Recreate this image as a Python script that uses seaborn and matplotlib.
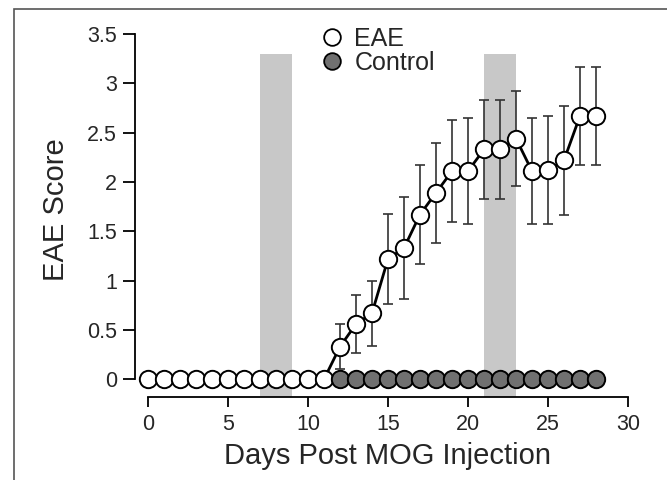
import numpy as np
import pandas as pd
import matplotlib
matplotlib.use("Agg")
import matplotlib.pyplot as plt
from matplotlib.lines import Line2D
import seaborn as sns

# mean clinical score (EAE group) per day, with SEM
eae_days = list(range(0, 29))
eae_score = [0, 0, 0, 0, 0, 0, 0, 0, 0, 0, 0, 0,
             0.33, 0.56, 0.67, 1.22, 1.33, 1.67, 1.89, 2.11, 2.11,
             2.33, 2.33, 2.44, 2.11, 2.12, 2.22, 2.67, 2.67]
eae_sem = [0, 0, 0, 0, 0, 0, 0, 0, 0, 0, 0, 0,
           0.23, 0.29, 0.33, 0.46, 0.52, 0.5, 0.51, 0.52, 0.54,
           0.5, 0.5, 0.48, 0.54, 0.55, 0.55, 0.5, 0.5]

control_days = list(range(12, 29))
control_score = [0] * len(control_days)

# shaded treatment windows (days)
windows = [(7, 9), (21, 23)]

xticks = [0, 5, 10, 15, 20, 25, 30]
yticks = [0, 0.5, 1, 1.5, 2, 2.5, 3, 3.5]
ytick_labels = ["0", "0.5", "1", "1.5", "2", "2.5", "3", "3.5"]

eae = pd.DataFrame({"day": eae_days, "score": eae_score, "sem": eae_sem})
ctrl = pd.DataFrame({"day": control_days, "score": control_score})

sns.set_style("ticks")
plt.rcParams["font.family"] = ["Liberation Sans", "DejaVu Sans"]

fig = plt.figure(figsize=(6.67, 4.8), dpi=100)
# axes: left spine at x=135px, x 0..30 -> 148..628px, y -0.18..3.5 -> 397..34px
ax = fig.add_axes([135 / 667, 83 / 480, 493 / 667, 363 / 480])

# grey frame around the panel
fig.patches.append(plt.Rectangle((14 / 667, -0.05), 1.0, (480 - 9) / 480 + 0.05,
                                 transform=fig.transFigure, fill=False,
                                 edgecolor="#555555", linewidth=1.2))

for lo, hi in windows:
    ax.fill_between([lo, hi], -0.18, 3.3, color="#c8c8c8", linewidth=0,
                    zorder=0)

ax.errorbar(eae["day"], eae["score"], yerr=eae["sem"], fmt="none",
            ecolor="#333333", elinewidth=1.2, capsize=3.3, capthick=1.2,
            zorder=2, clip_on=False)

sns.lineplot(data=eae, x="day", y="score", color="black", linewidth=2,
             marker="o", markersize=12.5, markerfacecolor="white",
             markeredgecolor="black", markeredgewidth=1.4, ax=ax,
             zorder=3, clip_on=False)
sns.lineplot(data=ctrl, x="day", y="score", color="black", linewidth=0,
             marker="o", markersize=12.5, markerfacecolor="#707070",
             markeredgecolor="black", markeredgewidth=1.4, ax=ax,
             zorder=4, clip_on=False)

ax.set_xlim(-0.8125, 30)
ax.set_ylim(-0.18, 3.5)
ax.set_xticks(xticks)
ax.set_xticklabels([str(t) for t in xticks], fontsize=15.5)
ax.set_yticks(yticks)
ax.set_yticklabels(ytick_labels, fontsize=15.5)
ax.tick_params(axis="y", length=9, width=1.3, color="black", pad=4)
ax.tick_params(axis="x", length=7, width=1.3, color="black", pad=5)
for s in ["top", "right"]:
    ax.spines[s].set_visible(False)
for s in ["left", "bottom"]:
    ax.spines[s].set_linewidth(1.3)
    ax.spines[s].set_color("black")
ax.spines["bottom"].set_bounds(0, 30)
ax.spines["left"].set_bounds(0, 3.5)

ax.set_xlabel("Days Post MOG Injection", fontsize=21)
ax.set_ylabel("EAE Score", fontsize=21)
ax.xaxis.set_label_coords(388 / 667, 1 - 442 / 480, transform=fig.transFigure)
ax.yaxis.set_label_coords(70 / 667, 1 - 210 / 480, transform=fig.transFigure)

handles = [
    Line2D([], [], linestyle="none", marker="o", markersize=12,
           markerfacecolor="white", markeredgecolor="black", markeredgewidth=1.3),
    Line2D([], [], linestyle="none", marker="o", markersize=12,
           markerfacecolor="#707070", markeredgecolor="black", markeredgewidth=1.3),
]
fig.legend(handles, ["EAE", "Control"], loc="upper left",
           bbox_to_anchor=(307 / 667, 1 - 17 / 480), frameon=False,
           fontsize=18, handletextpad=0.3, labelspacing=0.0,
           borderaxespad=0, handlelength=1.2)

fig.savefig("out.png", dpi=100)
